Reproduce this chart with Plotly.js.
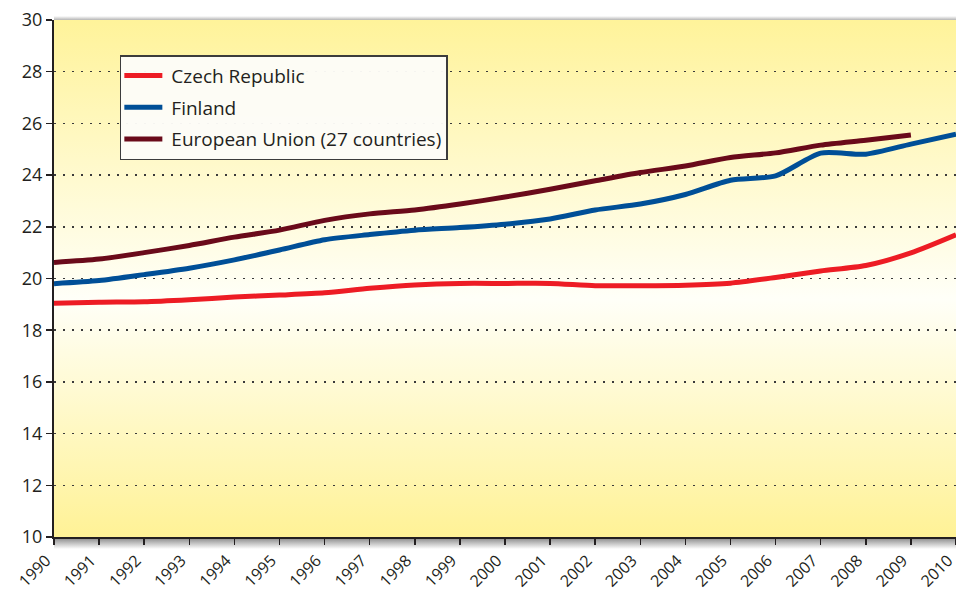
<!DOCTYPE html>
<html>
<head>
<meta charset="utf-8">
<script src="https://cdn.plot.ly/plotly-3.0.1.min.js"></script>
<style>
  html, body { margin: 0; padding: 0; background: #fff; }
  #chart { width: 956px; height: 591px; }
</style>
</head>
<body>
<div id="chart"></div>
<script>
// values, one per year
var years = [1990, 1991, 1992, 1993, 1994, 1995, 1996, 1997, 1998, 1999, 2000,
             2001, 2002, 2003, 2004, 2005, 2006, 2007, 2008, 2009, 2010];
var czech = [19.04, 19.08, 19.10, 19.18, 19.28, 19.36, 19.45, 19.62, 19.75, 19.81, 19.81,
             19.81, 19.72, 19.72, 19.74, 19.82, 20.04, 20.29, 20.50, 20.99, 21.69];
var finland = [19.80, 19.92, 20.15, 20.40, 20.72, 21.10, 21.50, 21.70, 21.87, 21.97, 22.10,
               22.30, 22.65, 22.88, 23.25, 23.80, 23.97, 24.85, 24.81, 25.20, 25.58];
// EU series stops at 2009
var euYears = years.slice(0, 20);
var eu = [20.62, 20.75, 21.00, 21.28, 21.60, 21.87, 22.25, 22.50, 22.65, 22.88,
          23.15, 23.45, 23.78, 24.10, 24.35, 24.68, 24.86, 25.16, 25.35, 25.55];

var seriesNames = ['Czech Republic', 'Finland', 'European Union (27 countries)'];
var seriesColors = ['#ED1C24', '#004F97', '#6A0A1A'];

function gradientUri(stops) {
  var s = '<svg xmlns="http://www.w3.org/2000/svg" width="10" height="100" preserveAspectRatio="none">' +
    '<defs><linearGradient id="g" x1="0" y1="0" x2="0" y2="1">';
  stops.forEach(function (st) {
    s += '<stop offset="' + st[0] + '" stop-color="' + st[1] + '"/>';
  });
  s += '</linearGradient></defs><rect width="10" height="100" fill="url(#g)"/></svg>';
  return 'data:image/svg+xml;charset=utf-8,' + encodeURIComponent(s);
}

var plotH = 591 - 20 - 54;

var data = [
  { x: years, y: czech, name: seriesNames[0], legendgroup: 'a' },
  { x: years, y: finland, name: seriesNames[1], legendgroup: 'b' },
  { x: euYears, y: eu, name: seriesNames[2], legendgroup: 'c' }
].map(function (t, i) {
  t.type = 'scatter';
  t.mode = 'lines';
  t.line = { color: seriesColors[i], width: 5, shape: 'spline', smoothing: 0.7 };
  t.hoverinfo = 'x+y+name';
  return t;
});

var layout = {
  width: 956,
  height: 591,
  margin: { l: 54, r: 0, t: 20, b: 54 },
  paper_bgcolor: '#ffffff',
  plot_bgcolor: 'rgba(0,0,0,0)',
  font: { family: '"Open Sans", "Noto Sans", sans-serif', color: '#231F20' },
  showlegend: true,
  legend: {
    x: 0.073, y: 0.932, xanchor: 'left', yanchor: 'top',
    bgcolor: 'rgba(253,252,248,0.96)',
    bordercolor: '#3c3c3c', borderwidth: 1.5,
    font: { size: 19, color: '#231F20' },
    itemwidth: 40,
    traceorder: 'grouped', tracegroupgap: 4
  },
  xaxis: {
    range: [1990, 2010],
    dtick: 1, tick0: 1990,
    tickangle: -45,
    tickfont: { size: 16 },
    ticklabelshift: -8,
    ticklabeloverflow: 'allow',
    ticks: 'outside', ticklen: 6, tickwidth: 1.5, tickcolor: '#231F20',
    showgrid: false, zeroline: false,
    showline: true, linecolor: '#231F20', linewidth: 2,
    automargin: false, fixedrange: true
  },
  yaxis: {
    range: [10, 30],
    dtick: 2, tick0: 10,
    tickfont: { size: 18 },
    ticks: 'outside', ticklen: 6, tickwidth: 1.5, tickcolor: '#231F20',
    showgrid: true, gridcolor: '#3a3a3a', gridwidth: 1.5, griddash: '2px,7px',
    zeroline: false,
    showline: true, linecolor: '#231F20', linewidth: 2,
    automargin: false, fixedrange: true
  },
  images: [
    { // yellow to white to yellow plot background
      source: gradientUri([[0, '#FFF39A'], [0.54, '#FFFFF8'], [1, '#FFF296']]),
      xref: 'paper', yref: 'paper', x: 0, y: 1, sizex: 1, sizey: 1,
      xanchor: 'left', yanchor: 'top', sizing: 'stretch', layer: 'below'
    },
    { // shadow under the x axis
      source: gradientUri([[0, '#808080'], [1, '#ffffff']]),
      xref: 'paper', yref: 'paper', x: 0, y: 0, sizex: 1, sizey: 12 / plotH,
      xanchor: 'left', yanchor: 'top', sizing: 'stretch', layer: 'below'
    },
    { // faint shadow above the top edge
      source: gradientUri([[0, '#ffffff'], [1, '#b5b5b5']]),
      xref: 'paper', yref: 'paper', x: 0, y: 1, sizex: 1, sizey: 4 / plotH,
      xanchor: 'left', yanchor: 'bottom', sizing: 'stretch', layer: 'below'
    }
  ]
};

Plotly.newPlot('chart', data, layout, { displayModeBar: false, staticPlot: true }).then(function (gd) {
  // legend line samples are a little longer in the original
  gd.querySelectorAll('.legend .js-line').forEach(function (p) {
    p.setAttribute('d', 'M3,0h38');
  });
});
</script>
</body>
</html>
